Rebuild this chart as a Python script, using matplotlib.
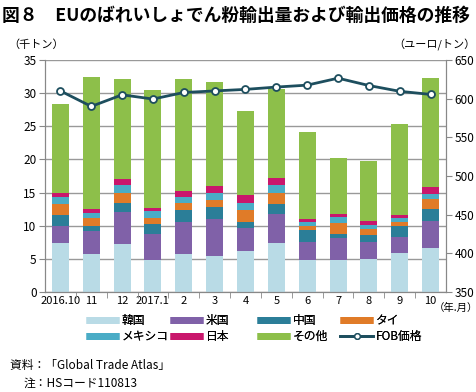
import matplotlib
matplotlib.use("Agg")
import matplotlib.pyplot as plt
import numpy as np
from matplotlib.lines import Line2D

plt.rcParams['font.family'] = ['Noto Sans CJK JP', 'DejaVu Sans']

months = ['2016.10', '11', '12', '2017.1', '2', '3', '4', '5', '6', '7', '8', '9', '10']
korea = [7.4, 5.7, 7.3, 4.9, 5.8, 5.5, 6.2, 7.45, 4.8, 4.8, 5.0, 5.85, 6.65]
usa = [2.5, 3.55, 4.8, 3.9, 4.8, 5.55, 3.45, 4.3, 2.7, 3.4, 2.6, 2.45, 4.0]
china = [1.7, 0.7, 1.35, 1.4, 1.7, 1.7, 0.9, 1.55, 1.8, 0.6, 1.0, 1.6, 1.9]
thai = [1.7, 1.25, 1.5, 1.0, 1.2, 1.15, 1.85, 1.65, 0.65, 1.65, 0.95, 0.7, 1.45]
mexico = [1.0, 0.7, 1.15, 0.95, 0.8, 1.05, 1.05, 1.25, 0.65, 0.9, 0.55, 0.55, 0.85]
japan = [0.65, 0.6, 0.9, 0.45, 0.95, 1.0, 1.25, 1.0, 0.35, 0.4, 0.6, 0.45, 1.0]
others = [13.4, 19.95, 15.2, 17.8, 16.95, 15.7, 12.55, 13.45, 13.2, 8.5, 9.05, 13.75, 16.5]
fob = [610, 590, 605, 599.5, 608, 610, 612, 615, 617.5, 626.5, 617, 609.5, 605.5]

series = [('韓国', korea, '#b9dbe6'), ('米国', usa, '#8061a8'), ('中国', china, '#2b7e98'),
          ('タイ', thai, '#e07b28'), ('メキシコ', mexico, '#4aacc6'), ('日本', japan, '#c9176c'),
          ('その他', others, '#8dbf4a')]

fig = plt.figure(figsize=(4.77, 3.92), dpi=100)
ax = fig.add_axes([45/477, 1-292/392, 401/477, 232/392])
ax2 = ax.twinx()

x = np.arange(len(months))
bottom = np.zeros(len(months))
for name, vals, col in series:
    ax.bar(x, vals, 0.55, bottom=bottom, color=col, label=name, zorder=2)
    bottom += np.array(vals)

ax2.plot(x, fob, color='#1d4e5e', lw=2, marker='o', ms=5, mfc='white', mec='#1d4e5e', mew=1.3, zorder=5)

ax.set_xlim(-0.5, 12.5)
ax.set_ylim(0, 35)
ax.set_yticks(range(0, 36, 5))
ax2.set_ylim(350, 650)
ax2.set_yticks(range(350, 651, 50))
ax.yaxis.grid(True, color='#999999', lw=1)
ax.set_axisbelow(True)

ax.set_xticks(x)
ax.set_xticklabels(months)
ax.set_xticks(np.arange(0.5, 12.5, 1), minor=True)
ax.tick_params(axis='x', which='major', length=0, pad=3, labelsize=8)
ax.tick_params(axis='x', which='minor', length=4, color='#888888', direction='out')
ax.tick_params(axis='y', length=4, color='#888888', labelsize=8.5, pad=2)
ax2.tick_params(axis='y', length=4, color='#888888', labelsize=8.5, pad=2)
for a in (ax, ax2):
    for s in a.spines.values():
        s.set_color('#888888')
    a.spines['top'].set_visible(False)

fig.text(8/477, 1-45/392, '（千トン）', fontsize=8, va='center', ha='left')
fig.text(476/477, 1-45/392, '（ユーロ/トン）', fontsize=8, va='center', ha='right')
fig.text(2/477, 1-16/392, '図８　EUのばれいしょでん粉輸出量および輸出価格の推移', fontsize=12.8,
         fontweight='bold', va='center', ha='left')
fig.text(478/477, 1-308/392, '（年.月）', fontsize=7.5, va='center', ha='right')

handles = []
for name, vals, col in series:
    handles.append(Line2D([], [], color=col, lw=5, solid_capstyle='butt'))
handles.append(Line2D([], [], color='#1d4e5e', lw=2, marker='o', ms=4, mfc='white', mec='#1d4e5e'))
labels = [s[0] for s in series] + ['FOB価格']
col_x = [86, 170, 257, 340]
for c in range(4):
    leg = fig.legend([handles[c], handles[c + 4]], [labels[c], labels[c + 4]],
                     loc='upper left', bbox_to_anchor=(col_x[c]/477, 1-314/392),
                     frameon=False, fontsize=8.5, handlelength=2.8, handletextpad=0.2,
                     labelspacing=0.25, borderpad=0, borderaxespad=0)
    fig.add_artist(leg)

fig.text(10/477, 1-365/392, '資料：「Global Trade Atlas」', fontsize=8.5, va='center', ha='left')
fig.text(24/477, 1-383/392, '注：HSコード110813', fontsize=8.5, va='center', ha='left')

fig.savefig('out.png', dpi=100)
